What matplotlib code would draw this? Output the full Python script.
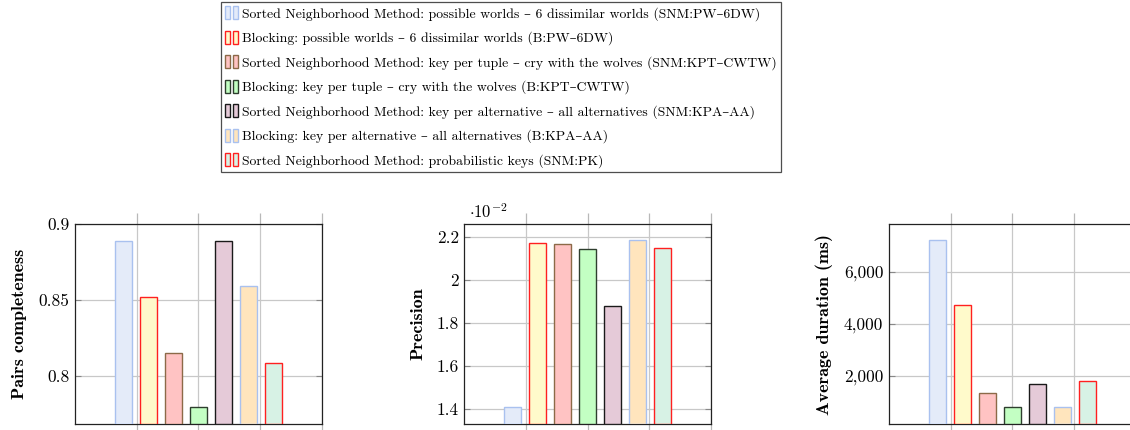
import matplotlib
matplotlib.use("Agg")
import matplotlib.pyplot as plt
from matplotlib.patches import Patch
from matplotlib.legend_handler import HandlerTuple
from matplotlib.ticker import FuncFormatter

plt.rcParams['font.family'] = ['cmr10', 'DejaVu Serif']
plt.rcParams['mathtext.fontset'] = 'cm'
plt.rcParams['axes.formatter.use_mathtext'] = True

labels = [
    "Sorted Neighborhood Method: possible worlds \u2013 6 dissimilar worlds (SNM:PW\u20136DW)",
    "Blocking: possible worlds \u2013 6 dissimilar worlds (B:PW\u20136DW)",
    "Sorted Neighborhood Method: key per tuple \u2013 cry with the wolves (SNM:KPT\u2013CWTW)",
    "Blocking: key per tuple \u2013 cry with the wolves (B:KPT\u2013CWTW)",
    "Sorted Neighborhood Method: key per alternative \u2013 all alternatives (SNM:KPA\u2013AA)",
    "Blocking: key per alternative \u2013 all alternatives (B:KPA\u2013AA)",
    "Sorted Neighborhood Method: probabilistic keys (SNM:PK)",
]
fills = ['#e4ebf9', '#fffacb', '#ffc3c3', '#c3ffc3', '#e5cad8', '#ffe5bd', '#d7f2e5']
edges = ['#a9c1ef', '#ff2020', '#8c6a48', '#2e3e2e', '#1a1a1a', '#a9c1ef', '#ff2020']

pairs_completeness = [0.889, 0.852, 0.815, 0.779, 0.889, 0.859, 0.808]
precision = [1.409, 2.172, 2.165, 2.143, 1.876, 2.183, 2.146]  # x 10^-2
duration = [7219, 4718, 1334, 808, 1666, 795, 1781]

fig = plt.figure(figsize=(11.3, 4.3), dpi=100)

panels = [
    (0.0664, pairs_completeness, 'Pairs completeness', (0.768, 0.9), [0.8, 0.85, 0.9], lambda v, p: '%g' % v),
    (0.4109, precision, 'Precision', (1.330, 2.259), [1.4, 1.6, 1.8, 2.0, 2.2], lambda v, p: '%g' % v),
    (0.7867, duration, 'Average duration (ms)', (142, 7846), [2000, 4000, 6000], lambda v, p: '{:,.0f}'.format(v)),
]

for left, vals, ylabel, ylim, yticks, fmt in panels:
    ax = fig.add_axes([left, 0.014, 0.2183, 0.465])
    for i, v in enumerate(vals):
        ax.bar(2 + (i - 3) * 0.406, v - ylim[0], bottom=ylim[0], width=0.28,
               color=fills[i], edgecolor=edges[i], linewidth=1.0, zorder=3)
    ax.set_xlim(0, 4)
    ax.set_ylim(*ylim)
    ax.set_xticks([1, 2, 3, 4])
    ax.set_xticklabels([])
    ax.set_yticks(yticks)
    ax.yaxis.set_major_formatter(FuncFormatter(fmt))
    ax.grid(True, color='#c8c8c8', linewidth=0.9, zorder=0)
    ax.tick_params(axis='x', direction='out', top=True, bottom=True, length=8,
                   color='#b8b8b8', width=0.9)
    ax.tick_params(axis='y', direction='in', left=True, right=True, length=4,
                   color='#888888', width=0.8, labelsize=12.5, pad=4)
    for s in ax.spines.values():
        s.set_linewidth(0.9)
        s.set_color('#222222')
    ax.set_ylabel(ylabel, fontsize=13, family=['cmb10', 'DejaVu Serif'], labelpad=8)
    if ylabel == 'Precision':
        ax.text(0.02, 1.015, r'$\cdot10^{-2}$', transform=ax.transAxes, fontsize=12,
                ha='left', va='bottom')

handles = [(Patch(facecolor=f, edgecolor=e, linewidth=1.0),
            Patch(facecolor=f, edgecolor=e, linewidth=1.0)) for f, e in zip(fills, edges)]
leg = fig.legend(handles, labels, loc='upper center', bbox_to_anchor=(0.4434, 0.995),
                 handler_map={tuple: HandlerTuple(ndivide=2, pad=0.22)},
                 fontsize=9.9, frameon=True, fancybox=False, edgecolor='#222222',
                 handlelength=0.95, handleheight=1.05, handletextpad=0.3,
                 labelspacing=0.73, borderpad=0.3, borderaxespad=0.0)
leg.get_frame().set_linewidth(0.9)

fig.savefig('out.png', dpi=100)
